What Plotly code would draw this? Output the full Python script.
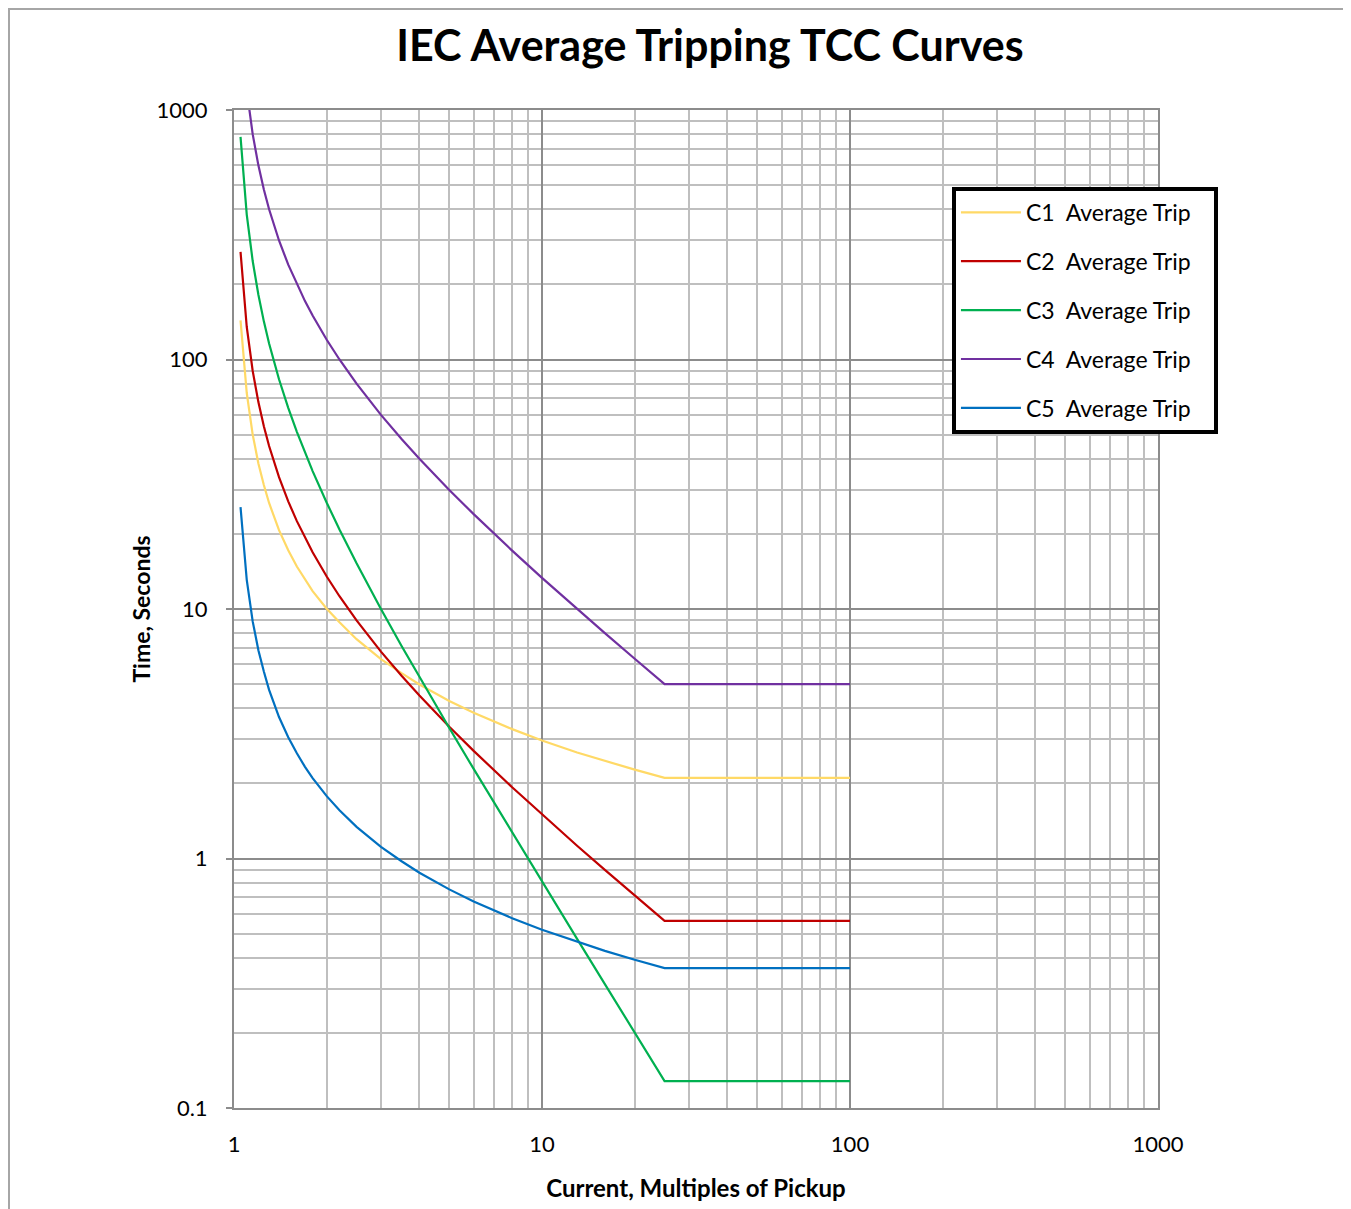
import plotly.graph_objects as go

# Vielfache des Ansprechstroms (x) und Auslösezeiten in Sekunden (y)
current_c1 = [1.05, 1.08, 1.1, 1.15, 1.2, 1.25, 1.3, 1.4, 1.5, 1.6, 1.7, 1.8, 2, 2.2, 2.5, 3, 3.5, 4, 5, 6, 8, 10, 13, 16, 20, 25, 100]
time_c1 = [143.4, 90.9, 73.4, 50.0, 38.3, 31.4, 26.6, 20.7, 17.2, 14.8, 13.1, 11.8, 10.03, 8.85, 7.57, 6.30, 5.53, 4.98, 4.28, 3.84,
           3.30, 2.97, 2.66, 2.46, 2.27, 2.105, 2.105]

current_c2 = [1.05, 1.08, 1.1, 1.15, 1.2, 1.25, 1.3, 1.4, 1.5, 1.6, 1.7, 1.8, 2, 2.2, 2.5, 3, 3.5, 4, 5, 6, 8, 10, 13, 16, 20, 25, 100]
time_c2 = [270, 168.75, 135, 90, 67.5, 54, 45, 33.75, 27, 22.5, 19.29, 16.88, 13.5, 11.25, 9, 6.75, 5.4, 4.5, 3.375, 2.7,
           1.929, 1.5, 1.125, 0.9, 0.7105, 0.5625, 0.5625]

current_c3 = [1.05, 1.08, 1.1, 1.15, 1.2, 1.25, 1.3, 1.4, 1.5, 1.6, 1.7, 1.8, 2, 2.2, 2.5, 3, 3.5, 4, 5, 6, 8, 10, 13, 16, 20, 25, 100]
time_c3 = [780.5, 480.8, 381.0, 248.1, 181.8, 142.2, 115.9, 83.3, 64.0, 51.3, 42.3, 35.7, 26.67, 20.83, 15.24, 10.0, 7.11, 5.333, 3.333,
           2.286, 1.270, 0.808, 0.4762, 0.3137, 0.2005, 0.1282, 0.1282]

current_c4 = [1.1, 1.12, 1.15, 1.2, 1.25, 1.3, 1.4, 1.5, 1.6, 1.7, 1.8, 2, 2.2, 2.5, 3, 3.5, 4, 5, 6, 8, 10, 13, 16, 20, 25, 100]
time_c4 = [1200, 1000, 800, 600, 480, 400, 300, 240, 200, 171.4, 150, 120, 100, 80, 60, 48, 40, 30, 24,
           17.14, 13.33, 10, 8, 6.316, 5, 5]

current_c5 = [1.05, 1.08, 1.1, 1.15, 1.2, 1.25, 1.3, 1.4, 1.5, 1.6, 1.7, 1.8, 2, 2.2, 2.5, 3, 3.5, 4, 5, 6, 8, 10, 13, 16, 20, 25, 100]
time_c5 = [25.6, 16.3, 13.09, 8.92, 6.83, 5.62, 4.74, 3.69, 3.06, 2.64, 2.33, 2.10, 1.778, 1.560, 1.339, 1.113, 0.975, 0.877, 0.752,
           0.673, 0.5765, 0.518, 0.4628, 0.4263, 0.3927, 0.3639, 0.3639]

serien_namen = ['C1 Average Trip', 'C2 Average Trip', 'C3 Average Trip', 'C4 Average Trip', 'C5 Average Trip']
farben = ['#FFD966', '#C00000', '#00B050', '#7030A0', '#0070C0']

x_ticks = [1, 10, 100, 1000]
x_ticktext = ['1', '10', '100', '1000']
y_ticks = [0.1, 1, 10, 100, 1000]
y_ticktext = ['0.1', '1', '10', '100', '1000']

schrift = 'Lato, Calibri, Arial, sans-serif'

# Nebengitter bei 2..9 in jeder Dekade
x_minor = [m * d for d in [1, 10, 100] for m in range(2, 10)]
y_minor = [m * d for d in [0.1, 1, 10, 100] for m in range(2, 10)]

fig = go.Figure()
daten = [(current_c1, time_c1), (current_c2, time_c2), (current_c3, time_c3),
         (current_c4, time_c4), (current_c5, time_c5)]
for i, (xs, ys) in enumerate(daten):
    # Excel-Legende hat etwas mehr Abstand nach "C1"
    legend_name = serien_namen[i].replace(' ', '\u00a0\u00a0', 1).replace(' ', '\u00a0') + '\u00a0' * 3
    fig.add_trace(go.Scatter(
        x=xs, y=ys, mode='lines',
        name=legend_name,
        line=dict(color=farben[i], width=2.2),
        legendgroup=f'g{i}'
    ))

achse = dict(
    type='log',
    showgrid=True, gridcolor='#8c8c8c', gridwidth=2,
    showline=True, linecolor='#8c8c8c', linewidth=2, mirror=True,
    zeroline=False,
    tickfont=dict(family=schrift, size=22, color='#000000'),
)

fig.update_xaxes(
    **achse,
    range=[0, 3],
    tickvals=x_ticks, ticktext=x_ticktext,
    ticks='', ticklabelstandoff=16,
    minor=dict(tickvals=x_minor, showgrid=True, gridcolor='#bfbfbf', gridwidth=2, ticks=''),
    title=dict(text='<b>Current, Multiples of Pickup</b>', font=dict(family=schrift, size=24, color='#000000'),
               standoff=24),
)
fig.update_yaxes(
    **achse,
    range=[-1, 3],
    tickvals=y_ticks, ticktext=y_ticktext,
    ticks='outside', ticklen=6, tickcolor='#8c8c8c', tickwidth=2, ticklabelstandoff=14,
    minor=dict(tickvals=y_minor, showgrid=True, gridcolor='#bfbfbf', gridwidth=2, ticks=''),
    title=dict(text='<b>Time, Seconds</b>', font=dict(family=schrift, size=23, color='#000000'),
               standoff=0),
)

fig.update_layout(
    width=1351, height=1209,
    margin=dict(l=226, r=201, t=102, b=109),
    paper_bgcolor='white', plot_bgcolor='white',
    title=dict(text='<b>IEC Average Tripping TCC Curves</b>', x=0.5196, xanchor='center',
               y=0.969, yanchor='middle', font=dict(family=schrift, size=43, color='#000000')),
    legend=dict(x=0.777, y=0.923, xanchor='left', yanchor='top',
                bgcolor='white', bordercolor='#000000', borderwidth=4,
                font=dict(family=schrift, size=23, color='#000000'),
                tracegroupgap=16, itemwidth=60),
    showlegend=True,
)

# grauer Rahmen um die gesamte Grafik
fig.add_shape(type='rect', xref='paper', yref='paper',
              x0=-0.2435, x1=1.25, y0=-0.13, y1=1.1012,
              line=dict(color='#a6a6a6', width=2), layer='below')

fig.write_html("out.html")
